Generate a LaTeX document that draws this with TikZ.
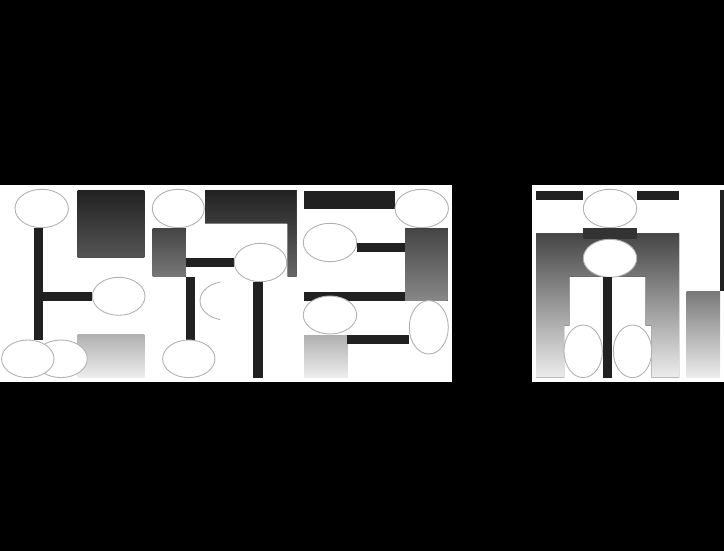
\documentclass[tikz,border=0pt]{standalone}
\begin{document}
\begin{tikzpicture}[x=1pt,y=-1pt,
  bar/.style={fill=black!87},
  oval/.style={draw=black!30,line width=0.9pt,fill=white},
  arcline/.style={draw=black!30,line width=0.9pt},
  dark/.style={top color=black!87,bottom color=black!67},
  mid/.style={top color=black!73,bottom color=black!53},
  midB/.style={top color=black!73,bottom color=black!47},
  light/.style={top color=black!31,bottom color=black!7},
  tall/.style={top color=black!73,bottom color=black!7},
  right/.style={top color=black!53,bottom color=black!7}]
\useasboundingbox (0,0) rectangle (724,551);
\fill[black] (0,0) rectangle (724,551);
\fill[white] (0,185) rectangle (451.7,381.7);
\fill[white] (531.7,185) rectangle (724,381.7);
% panel 1, left group
\fill[dark] (77.7,190) rectangle (144.3,257.3);
\draw[oval] (41.7,208.5) ellipse [x radius=26.7,y radius=19.2];
\fill[bar] (34.3,228.3) rectangle (43.3,339.5);
\fill[bar] (43.3,291.7) rectangle (92.3,300.7);
\draw[oval] (118.7,296.3) ellipse [x radius=26.3,y radius=19];
\fill[light] (77.7,334.3) rectangle (144.3,377.7);
\draw[oval] (61,358.8) ellipse [x radius=26.3,y radius=18.8];
\draw[oval] (27.8,358.8) ellipse [x radius=26.2,y radius=18.8];
% panel 1, middle group
\draw[oval] (178.3,208.5) ellipse [x radius=26,y radius=19.2];
\fill[mid] (152.5,228.3) rectangle (185.7,276.7);
\fill[top color=black!87,bottom color=black!60] (205,190) -- (296.7,190) -- (296.7,276.7) -- (287.7,276.7) -- (287.7,223.3) -- (205,223.3) -- cycle;
\fill[bar] (185.7,258) rectangle (234.3,267);
\draw[oval] (260.5,262.5) ellipse [x radius=26.2,y radius=19.2];
\fill[bar] (185.7,276.7) rectangle (195,340);
\draw[arcline] (220.15,282.1) arc [start angle=257,end angle=103,x radius=26,y radius=19.2];
\fill[bar] (253.3,281.7) rectangle (262.7,377.7);
\draw[oval] (188.8,358.8) ellipse [x radius=26.2,y radius=18.8];
% panel 1, right group
\fill[bar] (304,190.7) rectangle (395,209);
\draw[oval] (421.7,208.5) ellipse [x radius=26.7,y radius=19.2];
\draw[oval] (330,242.5) ellipse [x radius=26.7,y radius=19.2];
\fill[bar] (356.7,243.3) rectangle (405,252.3);
\fill[midB] (405,228.3) rectangle (447.7,300.7);
\fill[bar] (304,291.7) rectangle (405,300.7);
\draw[oval] (330,315) ellipse [x radius=26.7,y radius=19];
\fill[light] (304,335) rectangle (347.3,377.7);
\fill[bar] (347.3,335) rectangle (409.3,344);
\draw[oval] (428.8,327.3) ellipse [x radius=19.5,y radius=26.7];
% panel 2
\fill[bar] (536,191) rectangle (583.3,200);
\fill[bar] (636.7,191) rectangle (679,200);
\draw[oval] (610,208.5) ellipse [x radius=26.7,y radius=19.2];
\fill[tall] (536,233.3) -- (679,233.3) -- (679,377.7) -- (651.7,377.7) -- (651.7,325.7) -- (645.7,325.7) -- (645.7,276.7) -- (569.3,276.7) -- (569.3,325.7) -- (564,325.7) -- (564,377.7) -- (536,377.7) -- cycle;
\fill[black!80] (583.3,228.3) rectangle (636.7,239.3);
\draw[oval] (610,258.3) ellipse [x radius=26.7,y radius=19];
\fill[bar] (602.7,277.3) rectangle (612.3,377.7);
\draw[oval] (583.2,351.3) ellipse [x radius=19.2,y radius=26.3];
\draw[oval] (632.5,351.3) ellipse [x radius=19.2,y radius=26.3];
\fill[right] (686.7,291) rectangle (720,377.7);
\fill[bar] (720,190) rectangle (724,291);
\end{tikzpicture}
\end{document}
